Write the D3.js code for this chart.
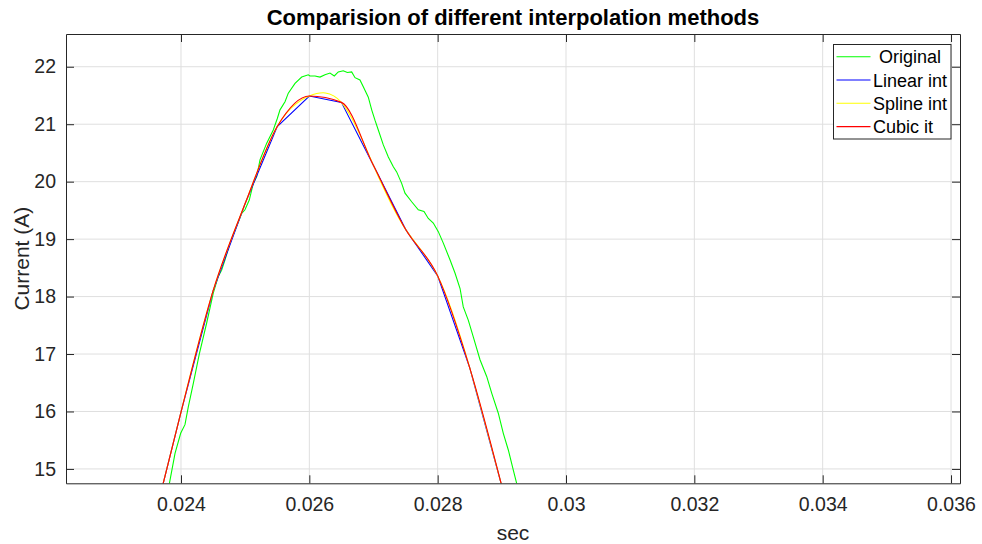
<!DOCTYPE html>
<html>
<head>
<meta charset="utf-8">
<script src="https://cdn.jsdelivr.net/npm/d3@7"></script>
<style>
  body { margin: 0; background: #fff; }
  text { font-family: "Liberation Sans", Arial, Helvetica, sans-serif; fill: #262626; }
</style>
</head>
<body>
<script>
// original measured signal (green)
var origTime = [0.023790, 0.023818, 0.023907, 0.023995, 0.024062, 0.024114, 0.024192, 0.024285, 0.024400,
  0.024503, 0.024581, 0.024634, 0.024686, 0.024764, 0.024946, 0.024997, 0.025064, 0.025127, 0.025180,
  0.025231, 0.025336, 0.025438, 0.025501, 0.025543, 0.025621, 0.025672, 0.025777, 0.025881, 0.025984,
  0.026010, 0.026088, 0.026166, 0.026244, 0.026322, 0.026389, 0.026451, 0.026529, 0.026592, 0.026660,
  0.026712, 0.026789, 0.026841, 0.026919, 0.026972, 0.027023, 0.027075, 0.027153, 0.027231, 0.027309,
  0.027361, 0.027439, 0.027491, 0.027595, 0.027698, 0.027787, 0.027854, 0.027932, 0.028010, 0.028088,
  0.028192, 0.028270, 0.028349, 0.028399, 0.028477, 0.028555, 0.028660, 0.028764, 0.028842, 0.028945,
  0.029023, 0.029101, 0.029179, 0.029231, 0.029267];
var origCurrent = [14.60, 14.74, 15.27, 15.62, 15.77, 16.08, 16.49, 17.00, 17.54,
  18.06, 18.35, 18.46, 18.64, 18.93, 19.45, 19.51, 19.68, 19.97, 20.09,
  20.38, 20.67, 20.90, 21.10, 21.25, 21.39, 21.54, 21.71, 21.82, 21.86,
  21.84, 21.84, 21.82, 21.86, 21.89, 21.84, 21.91, 21.93, 21.90, 21.91,
  21.81, 21.77, 21.65, 21.47, 21.25, 21.07, 20.90, 20.64, 20.43, 20.26,
  20.17, 19.97, 19.80, 19.65, 19.51, 19.48, 19.36, 19.28, 19.13, 18.93,
  18.64, 18.41, 18.14, 17.82, 17.59, 17.30, 16.90, 16.61, 16.32, 15.97,
  15.62, 15.33, 14.98, 14.75, 14.60];

// down sampled points used for the interpolations
var sampleTime = [0.0235, 0.024, 0.0245, 0.025, 0.0255, 0.026, 0.0265, 0.027, 0.0275, 0.028, 0.0285, 0.029];
var sampleCurrent = [13.75, 15.99, 18.10, 19.62, 20.96, 21.49, 21.38, 20.28, 19.17, 18.36, 16.76, 14.70];

var xTicks = [0.024, 0.026, 0.028, 0.030, 0.032, 0.034, 0.036];
var xTickLabels = ["0.024", "0.026", "0.028", "0.03", "0.032", "0.034", "0.036"];
var yTicks = [15, 16, 17, 18, 19, 20, 21, 22];

var legendNames = ["Original", "Linear int", "Spline int", "Cubic it"];
var lineColors = ["#00ff00", "#0000ff", "#ffff00", "#ff0000"];

var svgWidth = 982, svgHeight = 544;
var margin = {top: 34, right: 22, bottom: 60.7, left: 66};
var width = svgWidth - margin.left - margin.right;
var height = svgHeight - margin.top - margin.bottom;

var svg = d3.select("body")
    .append("svg")
    .attr("width", svgWidth)
    .attr("height", svgHeight);

var g = svg.append("g")
    .attr("transform", "translate(" + margin.left + "," + margin.top + ")");

var x = d3.scaleLinear().domain([0.022208, 0.03614]).range([0, width]);
var y = d3.scaleLinear().domain([14.75, 22.57]).range([height, 0]);

// grid
g.selectAll(".xgrid").data(xTicks).enter().append("line")
  .attr("x1", function(d){ return x(d); }).attr("x2", function(d){ return x(d); })
  .attr("y1", 0).attr("y2", height)
  .attr("stroke", "#dfdfdf").attr("stroke-width", 1);
g.selectAll(".ygrid").data(yTicks).enter().append("line")
  .attr("y1", function(d){ return y(d); }).attr("y2", function(d){ return y(d); })
  .attr("x1", 0).attr("x2", width)
  .attr("stroke", "#dfdfdf").attr("stroke-width", 1);

// lines, clipped to the axes box
svg.append("defs").append("clipPath").attr("id", "clip")
  .append("rect").attr("width", width).attr("height", height);
var plot = g.append("g").attr("clip-path", "url(#clip)");

var orig = origTime.map(function(t, i){ return [t, origCurrent[i]]; });
var samples = sampleTime.map(function(t, i){ return [t, sampleCurrent[i]]; });

function makeLine(curve){
  return d3.line()
    .x(function(d){ return x(d[0]); })
    .y(function(d){ return y(d[1]); })
    .curve(curve);
}

var series = [
  {data: orig, curve: d3.curveLinear},
  {data: samples, curve: d3.curveLinear},
  {data: samples, curve: d3.curveNatural},
  {data: samples, curve: d3.curveMonotoneX}
];
series.forEach(function(s, i){
  plot.append("path")
    .attr("d", makeLine(s.curve)(s.data))
    .attr("fill", "none")
    .attr("stroke", lineColors[i])
    .attr("stroke-width", 1.1);
});

// axes (matlab style box, ticks inside on all four sides)
var tickLen = 8;
var fmt = function(d){ return xTickLabels[xTicks.indexOf(d)]; };

var bottomAxis = g.append("g")
  .attr("transform", "translate(0," + height + ")")
  .call(d3.axisBottom(x).tickValues(xTicks).tickFormat(fmt).tickSizeInner(-tickLen).tickSizeOuter(0).tickPadding(14));
var leftAxis = g.append("g")
  .call(d3.axisLeft(y).tickValues(yTicks).tickSizeInner(-tickLen).tickSizeOuter(0).tickPadding(10));
var topAxis = g.append("g")
  .call(d3.axisTop(x).tickValues(xTicks).tickFormat("").tickSizeInner(-tickLen).tickSizeOuter(0));
var rightAxis = g.append("g")
  .attr("transform", "translate(" + width + ",0)")
  .call(d3.axisRight(y).tickValues(yTicks).tickFormat("").tickSizeInner(-tickLen).tickSizeOuter(0));

[bottomAxis, leftAxis, topAxis, rightAxis].forEach(function(a){
  a.select(".domain").attr("stroke", "#262626").attr("stroke-width", 1);
  a.selectAll(".tick line").attr("stroke", "#262626");
  a.selectAll(".tick text").attr("font-size", "19.5px").attr("fill", "#262626")
    .style("font-family", "'Liberation Sans', Arial, sans-serif");
});

// title and labels
svg.append("text")
  .attr("x", margin.left + width / 2).attr("y", 25)
  .attr("text-anchor", "middle")
  .attr("font-size", "22px").attr("font-weight", "bold").style("fill", "#000")
  .text("Comparision of different interpolation methods");

svg.append("text")
  .attr("x", margin.left + width / 2).attr("y", 540)
  .attr("text-anchor", "middle")
  .attr("font-size", "21px")
  .text("sec");

svg.append("text")
  .attr("transform", "translate(29," + (margin.top + height / 2) + ") rotate(-90)")
  .attr("text-anchor", "middle")
  .attr("font-size", "21px")
  .text("Current (A)");

// legend
var legend = svg.append("g").attr("transform", "translate(833.5,44.5)");
legend.append("rect")
  .attr("width", 117.5).attr("height", 94.5)
  .attr("fill", "#fff").attr("stroke", "#262626").attr("stroke-width", 1);
var items = legend.selectAll(".item").data(legendNames).enter().append("g")
  .attr("transform", function(d, i){ return "translate(0," + (12.2 + i * 23.3) + ")"; });
items.append("line")
  .attr("x1", 3).attr("x2", 37).attr("y1", 0).attr("y2", 0)
  .attr("stroke", function(d, i){ return lineColors[i]; }).attr("stroke-width", 1.1);
items.append("text")
  .attr("x", function(d, i){ return i == 0 ? 45.5 : 39.5; }).attr("y", 6.5)
  .attr("font-size", "18px").style("fill", "#000")
  .text(function(d){ return d; });
</script>
</body>
</html>
